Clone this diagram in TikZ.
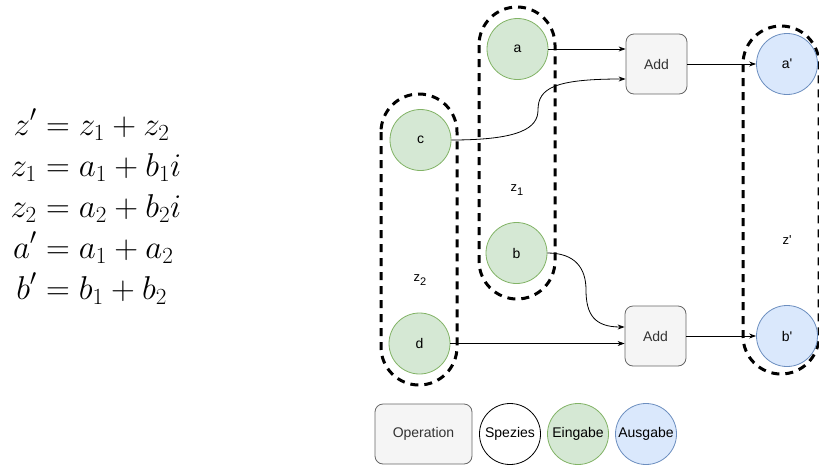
\RequirePackage{fix-cm}
\documentclass[tikz,border=0pt]{standalone}
\usepackage{amsmath}
\usepackage{fontspec}
\newfontfamily\lab{Liberation Sans}
\usetikzlibrary{arrows.meta}

\definecolor{inpFill}{HTML}{D5E8D4}
\definecolor{inpStroke}{HTML}{82B366}
\definecolor{outFill}{HTML}{DAE8FC}
\definecolor{outStroke}{HTML}{6C8EBF}
\definecolor{opFill}{HTML}{F5F5F5}
\definecolor{opStroke}{HTML}{666666}
\definecolor{opText}{HTML}{333333}

% group label: letter with a lowered, smaller index
\newcommand{\grplabel}[2]{z\raisebox{-3.5pt}{\fontsize{11}{13}\selectfont #2}}

\begin{document}
\begin{tikzpicture}[x=1pt,y=-1pt,
  every node/.style={font=\lab\fontsize{14}{16}\selectfont},
  species/.style={circle, draw, line width=0.8pt, minimum size=61pt, inner sep=0pt},
  inp/.style={species, draw=inpStroke, fill=inpFill},
  outp/.style={species, draw=outStroke, fill=outFill},
  op/.style={rectangle, rounded corners=8pt, draw=opStroke, fill=opFill, text=opText,
    line width=0.8pt, minimum width=61pt, minimum height=60pt, inner sep=0pt},
  grp/.style={draw=black, line width=3pt, dash pattern=on 8pt off 6pt, rounded corners=38pt},
  glabel/.style={font=\lab\fontsize{13}{15}\selectfont},
  link/.style={-{Stealth[length=7pt,width=5pt]}, line width=0.8pt}]
\useasboundingbox (0,0) rectangle (819,466);

% groups of species
\draw[grp] (479,7) rectangle (555,299);
\draw[grp] (381,94) rectangle (457,385);
\draw[grp] (743,26) rectangle (819,374);

% equations
\node[inner sep=0pt] (eqs) at (96,210) {\fontsize{33}{38}\selectfont\setlength{\jot}{3pt}$\begin{aligned}
  z' &= z_1 + z_2\\
  z_1 &= a_1 + b_1 i\\
  z_2 &= a_2 + b_2 i\\
  a' &= a_1 + a_2\\
  b' &= b_1 + b_2
\end{aligned}$};

% inputs
\node[inp] (a) at (517.5,49) {a};
\node[inp] (c) at (420.5,140) {c};
\node[inp] (b) at (516.5,253) {b};
\node[inp] (d) at (419.5,343.5) {d};

% operations
\node[op] (add1) at (656.5,64) {Add};
\node[op] (add2) at (655.5,336) {Add};

% outputs
\node[outp] (ap) at (787,64) {a'};
\node[outp] (bp) at (787,336) {b'};

% group labels
\node[glabel] (lz1) at (517,190) {\grplabel{z}{1}};
\node[glabel] (lz2) at (420,280) {\grplabel{z}{2}};
\node[glabel] (lzp) at (787,240) {z'};

% connectors
\draw[link] (a.east) -- (add1.west |- a.east);
\draw[link] (c.east) .. controls (520,140) and (538,128) .. (538,110)
  .. controls (538,88) and (555,79) .. ([yshift=-15pt]add1.west);
\draw[link] (add1.east) -- (ap.west);
\draw[link] (b.east) .. controls (575,253) and (586,268) .. (586,290)
  .. controls (586,315) and (595,327) .. ([yshift=9pt]add2.west);
\draw[link] (d.east) -- (add2.west |- d.east);
\draw[link] (add2.east) -- (bp.west);

% legend
\node[op, minimum width=97pt] (lop) at (423.5,434) {Operation};
\node[species, draw=black, fill=white] (lsp) at (510,434) {Spezies};
\node[inp] (lin) at (578,434) {Eingabe};
\node[outp] (lout) at (646,434) {Ausgabe};
\end{tikzpicture}
\end{document}
